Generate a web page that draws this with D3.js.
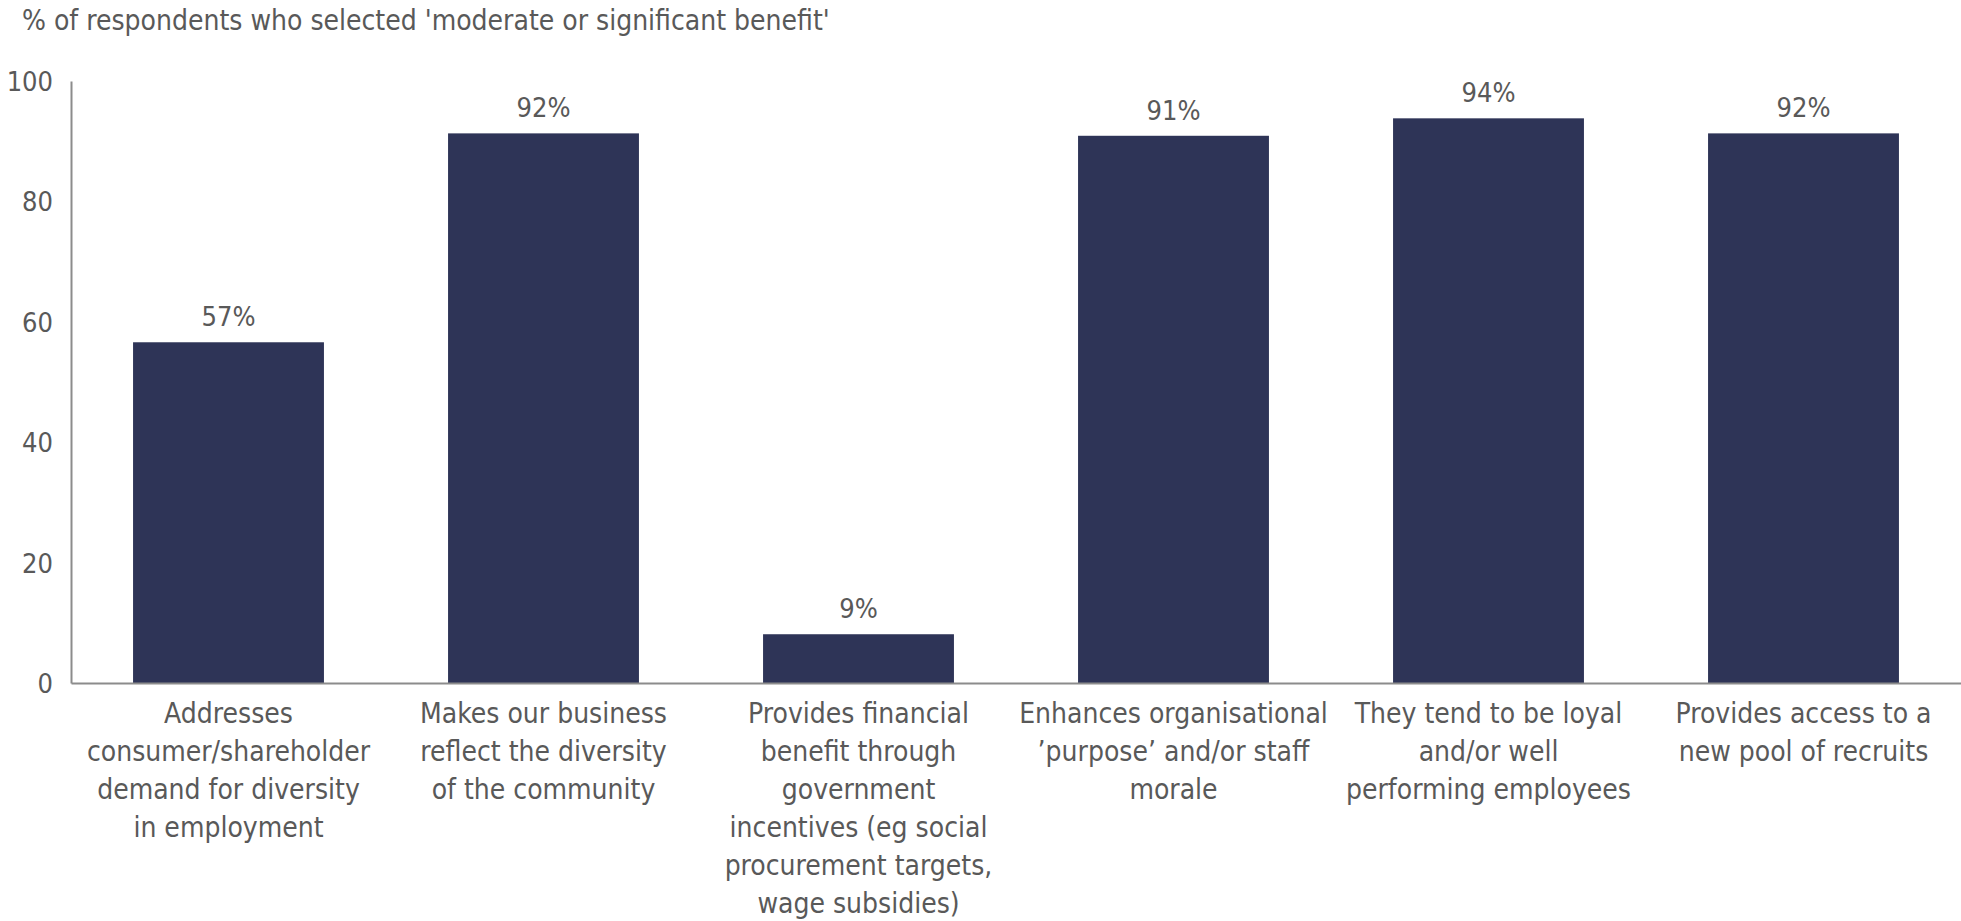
<!DOCTYPE html>
<html>
<head>
<meta charset="utf-8">
<script src="https://cdn.jsdelivr.net/npm/d3@7"></script>
<style>
  body { margin: 0; background: #fff; }
  svg text { font-family: "DejaVu Sans Condensed", "DejaVu Sans", sans-serif; fill: #595959; }
</style>
</head>
<body>
<svg id="chart" width="1961" height="921"></svg>
<script>
// categories (line breaks as in the original)
var categories = [
    "Addresses\nconsumer/shareholder\ndemand for diversity\nin employment",
    "Makes our business\nreflect the diversity\nof the community",
    "Provides financial\nbenefit through\ngovernment\nincentives (eg social\nprocurement targets,\nwage subsidies)",
    "Enhances organisational\n\u2019purpose\u2019 and/or staff\nmorale",
    "They tend to be loyal\nand/or well\nperforming employees",
    "Provides access to a\nnew pool of recruits"
];
var values = [56.6, 91.3, 8.1, 90.9, 93.8, 91.3];
var valueLabels = ["57%", "92%", "9%", "91%", "94%", "92%"];
var yTicks = [0, 20, 40, 60, 80, 100];
var title = "% of respondents who selected 'moderate or significant benefit'";

function draw() {
    var svg = d3.select("#chart");
    var mLeft = 71, mRight = 1961, mTop = 81, mBottom = 683;

    var x = d3.scaleBand()
        .domain(d3.range(categories.length))
        .range([mLeft, mRight])
        .paddingInner(0.394)
        .paddingOuter(0.197);

    var y = d3.scaleLinear().domain([0, 100]).range([mBottom, mTop]);

    svg.append("text")
        .attr("x", 22)
        .attr("y", 30)
        .style("font-size", "28px")
        .text(title);

    // bars
    svg.append("g").selectAll("rect")
        .data(values)
        .enter().append("rect")
        .attr("x", function (d, i) { return x(i); })
        .attr("y", function (d) { return y(d); })
        .attr("width", x.bandwidth())
        .attr("height", function (d) { return y(0) - y(d); })
        .style("fill", "#2e3457");

    // value labels
    svg.append("g").selectAll("text")
        .data(values)
        .enter().append("text")
        .attr("x", function (d, i) { return x(i) + x.bandwidth() / 2; })
        .attr("y", function (d) { return y(d) - 16; })
        .attr("text-anchor", "middle")
        .style("font-size", "27px")
        .text(function (d, i) { return valueLabels[i]; });

    // y axis
    var yAxis = svg.append("g")
        .attr("transform", "translate(" + mLeft + ",0)")
        .call(d3.axisLeft(y).tickValues(yTicks).tickSize(0).tickPadding(18));
    yAxis.select(".domain").attr("stroke", "#8c8c8c").attr("stroke-width", 2);
    yAxis.selectAll("text").style("font-size", "27px").attr("dy", "0.35em");

    // x axis
    var xAxis = svg.append("g")
        .attr("transform", "translate(0," + mBottom + ")")
        .call(d3.axisBottom(x).tickSize(0).tickFormat(""));
    xAxis.select(".domain").attr("stroke", "#8c8c8c").attr("stroke-width", 2);

    var lab = svg.append("g").selectAll("text")
        .data(categories)
        .enter().append("text")
        .attr("text-anchor", "middle")
        .style("font-size", "28px")
        .attr("transform", function (d, i) { return "translate(" + (x(i) + x.bandwidth() / 2) + ",723)"; });

    lab.selectAll("tspan")
        .data(function (d) { return d.split("\n"); })
        .enter().append("tspan")
        .attr("x", 0)
        .attr("y", function (d, j) { return j * 38; })
        .text(function (d) { return d; });
}

draw();
</script>
</body>
</html>
